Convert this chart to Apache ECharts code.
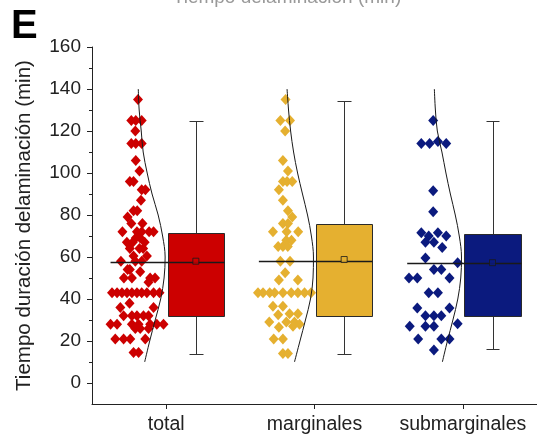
<!DOCTYPE html>
<html><head><meta charset="utf-8">
<script src="https://cdn.jsdelivr.net/npm/echarts@6/dist/echarts.min.js"></script>
<style>html,body{margin:0;padding:0;background:#fff}#c{width:537px;height:440px}</style>
</head><body><div id="c"></div>
<script>
// ---------------- data ----------------
const categories = ['total', 'marginales', 'submarginales'];
const yTickLabels = [0, 20, 40, 60, 80, 100, 120, 140, 160];
const yMinorTicks = [10, 30, 50, 70, 90, 110, 130, 150];

// [jitter (fraction of category spacing), minutes]
const totalPoints = [
  [0.005,135],
  [-0.04,125],[-0.01,125],[0.03,125],
  [-0.013,120],
  [-0.04,114],[-0.01,114],[0.03,114],
  [-0.01,106],[0.015,101],
  [-0.05,96],[-0.025,96],
  [0.03,92],[0.055,92],
  [0.025,87],
  [-0.025,82],[0.0,82],
  [-0.065,79],
  [-0.04,76],[0.035,76],
  [-0.1,72],[-0.002,72],[0.03,72],[0.08,72],[0.11,72],
  [-0.01,69],[0.02,69],
  [-0.07,67],[-0.03,67],[0.05,67],
  [-0.05,64],[0.015,64],[0.04,64],
  [-0.025,60.5],[0.065,60.5],
  [-0.11,58],[-0.013,58],[0.03,58],
  [-0.065,54],[-0.05,54],[0.02,53],
  [-0.09,50],[-0.036,50],[0.087,50],[0.12,50],
  [0.076,48],
  [-0.17,43],[-0.136,43],[-0.103,43],[-0.069,43],[-0.036,43],[-0.002,43],[0.03,43],[0.065,43],[0.11,43],[0.15,43],
  [-0.052,38],
  [-0.114,36],[0.11,36],
  [-0.092,32],[-0.036,32],[-0.002,32],[0.042,32],[0.076,32],
  [-0.18,28],[-0.136,28],[-0.036,28],[0.009,28],[0.087,28],[0.132,28],[0.177,28],
  [-0.013,26],[0.02,26],[0.076,26],
  [-0.148,21],[-0.092,21],[-0.047,21],[0.054,21],
  [-0.025,14.5],[0.009,14.5]
];
const marginalesPoints = [
  [0,135],
  [-0.035,125],[0.03,125],
  [-0.003,120],
  [-0.018,106],[0.016,101],
  [-0.018,96],[0.01,96],[0.045,96],
  [-0.045,92],[-0.018,87],[0.016,82],[0.045,79],
  [-0.018,76],[0.016,76],
  [-0.085,72],[0.007,72],[0.085,72],
  [0.005,68],[0.04,68],
  [-0.05,65],[-0.018,65],[0.015,65],
  [-0.035,58],[0.03,58],
  [-0.003,52.5],
  [-0.045,49],[0.083,49],
  [-0.186,43],[-0.152,43],[-0.107,43],[-0.074,43],[-0.018,43],[0.038,43],[0.083,43],[0.128,43],[0.172,43],
  [-0.085,36.5],[-0.018,36.5],
  [-0.05,32.5],[0.027,33],[0.083,33],
  [-0.11,29],[0.005,29],[0.06,29],[0.094,28],
  [-0.045,26.5],[0.05,27],
  [-0.08,21],[-0.018,21],
  [-0.018,14],[0.016,14]
];
const submarginalesPoints = [
  [-0.005,125],
  [-0.085,114],[-0.029,114],[0.027,115],[0.083,114],
  [-0.005,91.5],[-0.005,81.5],
  [-0.085,71.5],[0.027,71.5],
  [-0.035,70],[0.083,70],
  [-0.057,67],[0,67],
  [0.056,64.5],[-0.057,59.5],[0.16,57.3],
  [0,54],[0.05,54],
  [-0.168,50],[-0.112,50],[0.105,50],
  [-0.035,43],[0.027,43],
  [-0.112,35.7],[0.105,35.7],
  [-0.057,32],[0,32],[0.05,32],
  [0.16,28.2],
  [-0.163,27],[-0.057,27],[0,27],
  [-0.106,21],[0.05,21],[0.105,21],
  [0,15.7]
];

// distribution curves: [offset (fraction of category spacing), minutes]
const totalCurve = [[0.007,140],[0.013,130],[0.027,120],[0.04,110],[0.067,100],[0.1,90],[0.141,80],[0.171,70],[0.188,60],[0.181,50],[0.158,40],[0.121,30],[0.084,20],[0.05,10]];
const marginalesCurve = [[0.01,140],[0.02,130],[0.034,120],[0.054,110],[0.081,100],[0.114,90],[0.148,80],[0.174,70],[0.188,60],[0.185,50],[0.168,40],[0.134,30],[0.097,20],[0.06,10]];
const submarginalesCurve = [[0.003,140],[0.01,130],[0.023,120],[0.054,110],[0.081,100],[0.111,90],[0.144,80],[0.171,70],[0.186,60],[0.181,50],[0.161,40],[0.128,30],[0.091,20],[0.057,10]];

// box stats: [whisker low, Q1, median, Q3, whisker high]
const totalBox = [14, 32, 57.6, 71.5, 125];
const marginalesBox = [14, 32, 58, 75.6, 134.5];
const submarginalesBox = [16, 32, 57, 71, 125];
const meanValues = [58, 58.8, 57.3];

const colors = ['#cc0000', '#e5b030', '#0b1a7e'];

// ---------------- layout constants ----------------
const SCATTER_OFF = -0.195, BOX_OFF = 0.2, BOX_HALF = 0.19, CAP_HALF = 0.047, MED_LEFT = -0.375;
const FONT = 'Liberation Sans, Arial, sans-serif';

const pointsSets = [totalPoints, marginalesPoints, submarginalesPoints];
const curves = [totalCurve, marginalesCurve, submarginalesCurve];
const boxes = [totalBox, marginalesBox, submarginalesBox];

const series = [];
pointsSets.forEach((pts, i) => {
  series.push({
    type: 'scatter', symbol: 'diamond', symbolSize: [10, 11],
    itemStyle: { color: colors[i], opacity: 1 },
    data: pts.map(p => [i + 1 + SCATTER_OFF + p[0], p[1]]),
    z: 2, silent: true
  });
});
curves.forEach((cv, i) => {
  series.push({
    type: 'line', smooth: 0.35, showSymbol: false, symbol: 'none',
    lineStyle: { color: '#1a1a1a', width: 1 },
    data: cv.map(p => [i + 1 + SCATTER_OFF + p[0], p[1]]),
    z: 3, silent: true
  });
});

const h = v => Math.round(v) + 0.5;
series.push({
  type: 'custom',
  data: boxes.map((b, i) => [i + 1, ...b]),
  encode: { x: 0, y: [1, 2, 3, 4, 5] },
  z: 4, silent: true,
  renderItem: function (params, api) {
    const c = api.value(0), mn = api.value(1), q1 = api.value(2), md = api.value(3), q3 = api.value(4), mx = api.value(5);
    const xc = c + BOX_OFF;
    const x0 = h(api.coord([xc, 0])[0]);
    const yMax = h(api.coord([xc, mx])[1]), yQ3 = h(api.coord([xc, q3])[1]), yQ1 = h(api.coord([xc, q1])[1]), yMin = h(api.coord([xc, mn])[1]), yMd = h(api.coord([xc, md])[1]);
    const left = h(api.coord([xc - BOX_HALF, 0])[0]), right = h(api.coord([xc + BOX_HALF, 0])[0]);
    const capL = h(api.coord([xc - CAP_HALF, 0])[0]), capR = h(api.coord([xc + CAP_HALF, 0])[0]);
    const medL = api.coord([c + MED_LEFT, 0])[0];
    const st = { stroke: '#333', lineWidth: 1 };
    return { type: 'group', children: [
      { type: 'line', shape: { x1: x0, y1: yMax, x2: x0, y2: yQ3 }, style: st },
      { type: 'line', shape: { x1: x0, y1: yQ1, x2: x0, y2: yMin }, style: st },
      { type: 'line', shape: { x1: capL, y1: yMax, x2: capR, y2: yMax }, style: st },
      { type: 'line', shape: { x1: capL, y1: yMin, x2: capR, y2: yMin }, style: st },
      { type: 'rect', shape: { x: left, y: yQ3, width: right - left, height: yQ1 - yQ3 }, style: { fill: colors[params.dataIndex], stroke: '#2a2a2a', lineWidth: 1 } },
      { type: 'line', shape: { x1: medL, y1: yMd, x2: right, y2: yMd }, style: { stroke: '#1a1a1a', lineWidth: 1.3 } }
    ] };
  }
});
series.push({
  type: 'scatter', symbol: 'rect', symbolSize: 6, z: 5, silent: true,
  data: meanValues.map((m, i) => ({ value: [i + 1 + BOX_OFF, m], itemStyle: { color: colors[i], borderColor: '#1a1a1a', borderWidth: 1 } }))
});

const chart = echarts.init(document.getElementById('c'), null, { renderer: 'canvas' });
chart.setOption({
  animation: false,
  backgroundColor: '#fff',
  grid: { left: 92, right: -2, top: 47, bottom: 36, containLabel: false },
  xAxis: {
    type: 'value', min: 0.5, max: 3.5,
    axisLine: { show: true, onZero: false, lineStyle: { color: '#222', width: 1 } },
    axisTick: { show: true, length: 5, customValues: [1, 2, 3], lineStyle: { color: '#222' } },
    axisLabel: { customValues: [1, 2, 3], formatter: v => categories[Math.round(v) - 1], fontSize: 19.5, color: '#222', margin: 11, fontFamily: FONT },
    splitLine: { show: false }
  },
  yAxis: [{
    type: 'value', min: -10, max: 160, position: 'left',
    axisLine: { show: true, onZero: false, lineStyle: { color: '#222', width: 1 } },
    axisTick: { show: true, length: 5, customValues: yTickLabels, lineStyle: { color: '#222' } },
    axisLabel: { customValues: yTickLabels, fontSize: 19, color: '#222', margin: 11, fontFamily: FONT },
    splitLine: { show: false },
    name: 'Tiempo duración delaminación (min)', nameLocation: 'middle', nameGap: 57,
    nameTextStyle: { fontSize: 20.5, color: '#222', fontFamily: FONT }
  }, {
    type: 'value', min: -10, max: 160, position: 'left',
    axisLine: { show: false },
    axisTick: { show: true, length: 3, customValues: yMinorTicks, lineStyle: { color: '#222' } },
    axisLabel: { show: false },
    splitLine: { show: false }
  }],
  graphic: [
    { type: 'text', left: 11, top: 7, style: { text: 'E', font: 'bold 40px ' + FONT, fill: '#000' } },
    { type: 'text', x: 287, y: 7, style: { text: 'Tiempo delaminación (min)', font: '19px ' + FONT, fill: '#999', textAlign: 'center', textVerticalAlign: 'bottom' } }
  ],
  series: series
});
</script></body></html>
